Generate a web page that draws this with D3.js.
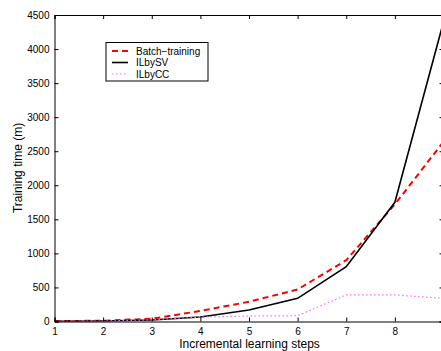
<html>
<head>
  <script src="https://cdnjs.cloudflare.com/ajax/libs/d3/7.8.5/d3.min.js"></script>
  <style>
    body { margin: 0; background: #fff; }
    text { font-family: "Liberation Sans", Arial, sans-serif; fill: #000; }
  </style>
</head>
<body>
  <svg id="chart" width="441" height="351"></svg>
  <script>
    // learning steps 1..9
    var steps = [1, 2, 3, 4, 5, 6, 7, 8, 9];
    var batchTraining = [5, 12, 40, 155, 290, 470, 900, 1720, 2640];
    var ilBySV = [3, 8, 22, 66, 170, 340, 805, 1750, 4400];
    var ilByCC = [2, 6, 25, 65, 80, 85, 390, 390, 340];
    var xTicks = [1, 2, 3, 4, 5, 6, 7, 8, 9];
    var yTicks = [0, 500, 1000, 1500, 2000, 2500, 3000, 3500, 4000, 4500];

    var svg = d3.select("#chart");
    // note: can't use "top" as a global name (window.top)
    var pLeft = 54.5, pRight = 443.5, pTop = 15, pBottom = 321.5;

    var x = d3.scaleLinear().domain([1, 9]).range([pLeft, pRight]);
    var y = d3.scaleLinear().domain([0, 4500]).range([pBottom, pTop]);

    var series = [
      { name: "Batch\u2212training", values: batchTraining, color: "#ff0000", dash: "6,4", width: 2 },
      { name: "ILbySV", values: ilBySV, color: "#000000", dash: null, width: 1.6 },
      { name: "ILbyCC", values: ilByCC, color: "#ff66ff", dash: "1.5,2.5", width: 1.2 }
    ];

    var line = d3.line().x((d, i) => x(steps[i])).y(d => y(d));

    svg.append("defs").append("clipPath").attr("id", "clip")
      .append("rect").attr("x", pLeft).attr("y", pTop).attr("width", pRight - pLeft).attr("height", pBottom - pTop);

    var plot = svg.append("g").attr("clip-path", "url(#clip)");
    series.forEach(function (s) {
      plot.append("path")
        .attr("d", line(s.values))
        .attr("fill", "none")
        .attr("stroke", s.color)
        .attr("stroke-width", s.width)
        .attr("stroke-dasharray", s.dash);
    });

    // axes (matlab style box, ticks inward)
    var ax = d3.axisBottom(x).tickValues(xTicks.slice(0, 8)).tickSize(-4).tickPadding(6).tickFormat(d3.format("d"));
    svg.append("g").attr("transform", "translate(0," + pBottom + ")").call(ax);
    svg.append("g").attr("transform", "translate(0," + pTop + ")")
      .call(d3.axisTop(x).tickValues(xTicks.slice(0, 8)).tickSize(-4).tickFormat(""));
    svg.append("g").attr("transform", "translate(" + pLeft + ",0)")
      .call(d3.axisLeft(y).tickValues(yTicks).tickSize(-4).tickPadding(5).tickFormat(d3.format("d")));
    svg.append("g").attr("transform", "translate(" + pRight + ",0)")
      .call(d3.axisRight(y).tickValues(yTicks).tickSize(-4).tickFormat(""));

    svg.selectAll(".domain").attr("stroke", "#000").attr("stroke-width", 1);
    svg.selectAll(".tick line").attr("stroke", "#000");
    svg.selectAll(".tick text").style("font-family", "Liberation Sans, Arial, sans-serif").style("font-size", "10px");

    // axis labels
    svg.append("text").attr("x", 249.5).attr("y", 347.5).attr("text-anchor", "middle")
      .style("font-size", "12px").text("Incremental learning steps");
    svg.append("text").attr("transform", "translate(22,168) rotate(-90)").attr("text-anchor", "middle")
      .style("font-size", "12px").text("Training time (m)");

    // legend
    var lg = svg.append("g");
    lg.append("rect").attr("x", 106).attr("y", 42.5).attr("width", 102).attr("height", 38.5)
      .attr("fill", "#fff").attr("stroke", "#000").attr("stroke-width", 1);
    series.forEach(function (s, i) {
      var ly = 51 + i * 11.5;
      lg.append("line").attr("x1", 112).attr("x2", 128).attr("y1", ly).attr("y2", ly)
        .attr("stroke", s.color).attr("stroke-width", s.width).attr("stroke-dasharray", s.dash);
      lg.append("text").attr("x", 136).attr("y", ly + 3.5).style("font-size", "10px").text(s.name);
    });
  </script>
</body>
</html>
